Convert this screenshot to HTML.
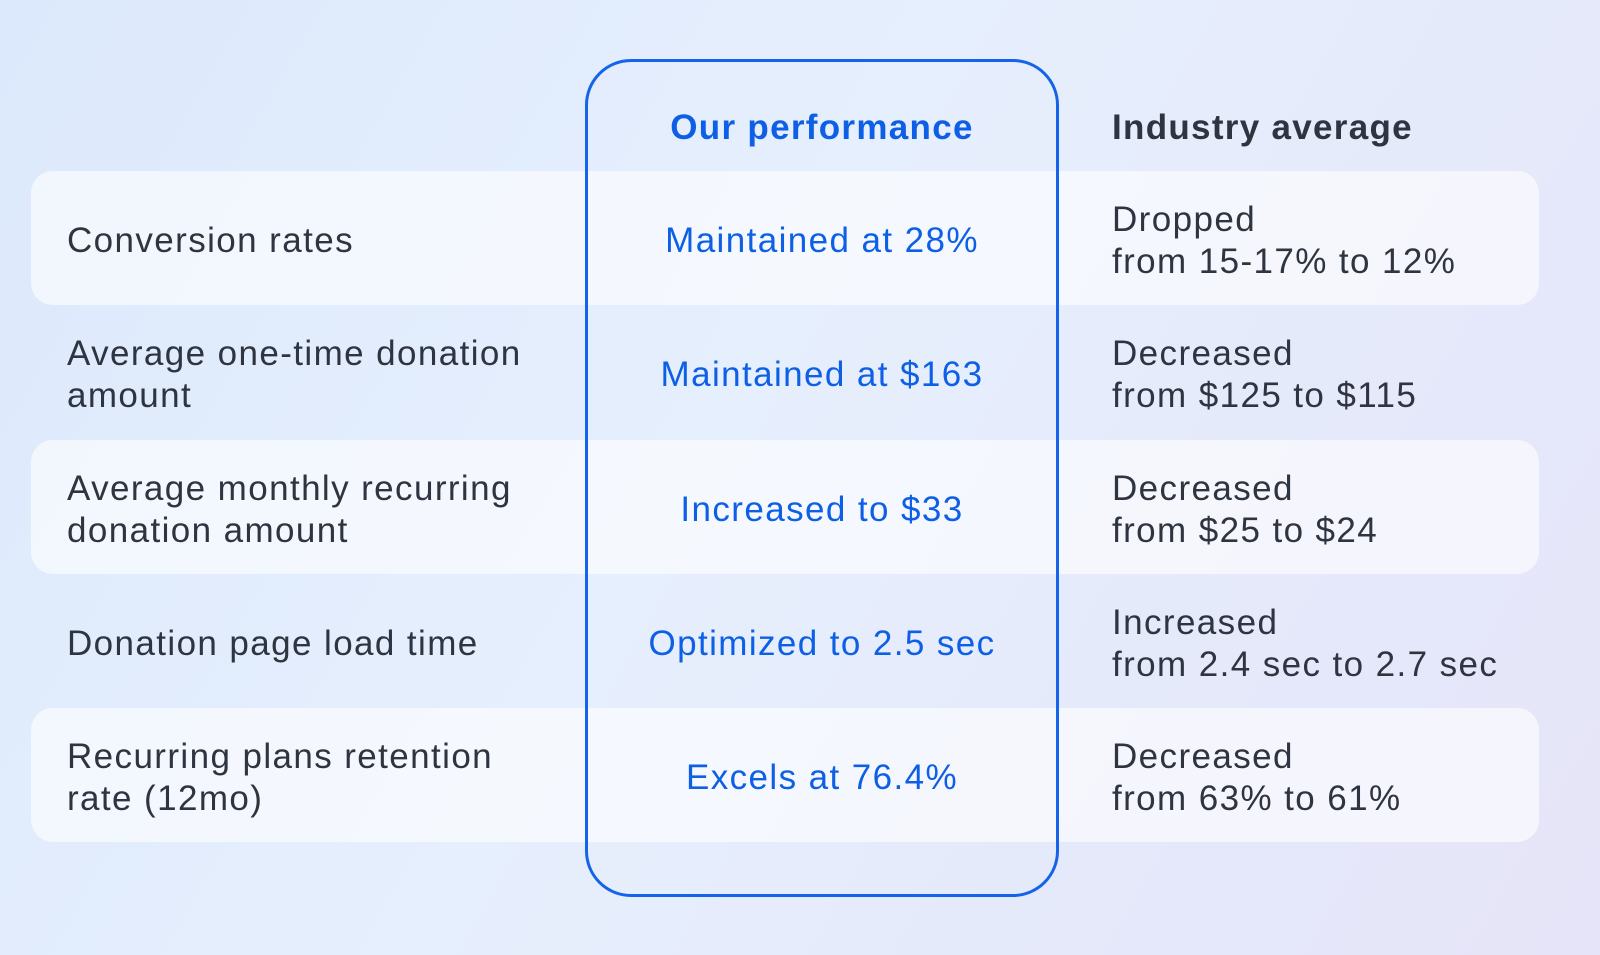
<!DOCTYPE html>
<html><head><style>
html,body{margin:0;padding:0}
body{width:1600px;height:955px;position:relative;overflow:hidden;font-family:"Liberation Sans",sans-serif;
background:linear-gradient(120deg,#dce9fc 0%,#e6effd 45%,#e5e8fa 80%,#e6e4f8 100%);}
.row{position:absolute;left:31px;width:1508px;height:134px;border-radius:22px;background:rgba(255,255,255,0.6)}
.t{position:absolute;font-size:35px;letter-spacing:1.4px;line-height:42px;color:#2e3440;display:flex;align-items:center;height:134px;margin-top:3px;white-space:nowrap}
.c1{left:67px;width:500px}
.c2{left:585px;width:474px;justify-content:center;color:#0d5fe6;text-align:center}
.c3{left:1112px;width:480px}
.box{position:absolute;left:585px;top:59px;width:474px;height:838px;border:3px solid #1463ea;border-radius:46px;box-sizing:border-box}
.h{position:absolute;top:105px;font-size:35px;letter-spacing:1.3px;font-weight:bold;line-height:46px}
</style></head><body>
<div class="row" style="top:171px"></div>
<div class="row" style="top:440px"></div>
<div class="row" style="top:708px"></div>
<div class="box"></div>
<div class="h" style="left:585px;width:474px;text-align:center;color:#0d5fe6">Our performance</div>
<div class="h" style="left:1112px;color:#2e3440">Industry average</div>

<div class="t c1" style="top:171px">Conversion rates</div>
<div class="t c2" style="top:171px">Maintained at 28%</div>
<div class="t c3" style="top:171px">Dropped<br>from 15-17% to 12%</div>

<div class="t c1" style="top:305px">Average one-time donation<br>amount</div>
<div class="t c2" style="top:305px">Maintained at $163</div>
<div class="t c3" style="top:305px">Decreased<br>from $125 to $115</div>

<div class="t c1" style="top:440px">Average monthly recurring<br>donation amount</div>
<div class="t c2" style="top:440px">Increased to $33</div>
<div class="t c3" style="top:440px">Decreased<br>from $25 to $24</div>

<div class="t c1" style="top:574px">Donation page load time</div>
<div class="t c2" style="top:574px">Optimized to 2.5 sec</div>
<div class="t c3" style="top:574px">Increased<br>from 2.4 sec to 2.7 sec</div>

<div class="t c1" style="top:708px">Recurring plans retention<br>rate (12mo)</div>
<div class="t c2" style="top:708px">Excels at 76.4%</div>
<div class="t c3" style="top:708px">Decreased<br>from 63% to 61%</div>
</body></html>
